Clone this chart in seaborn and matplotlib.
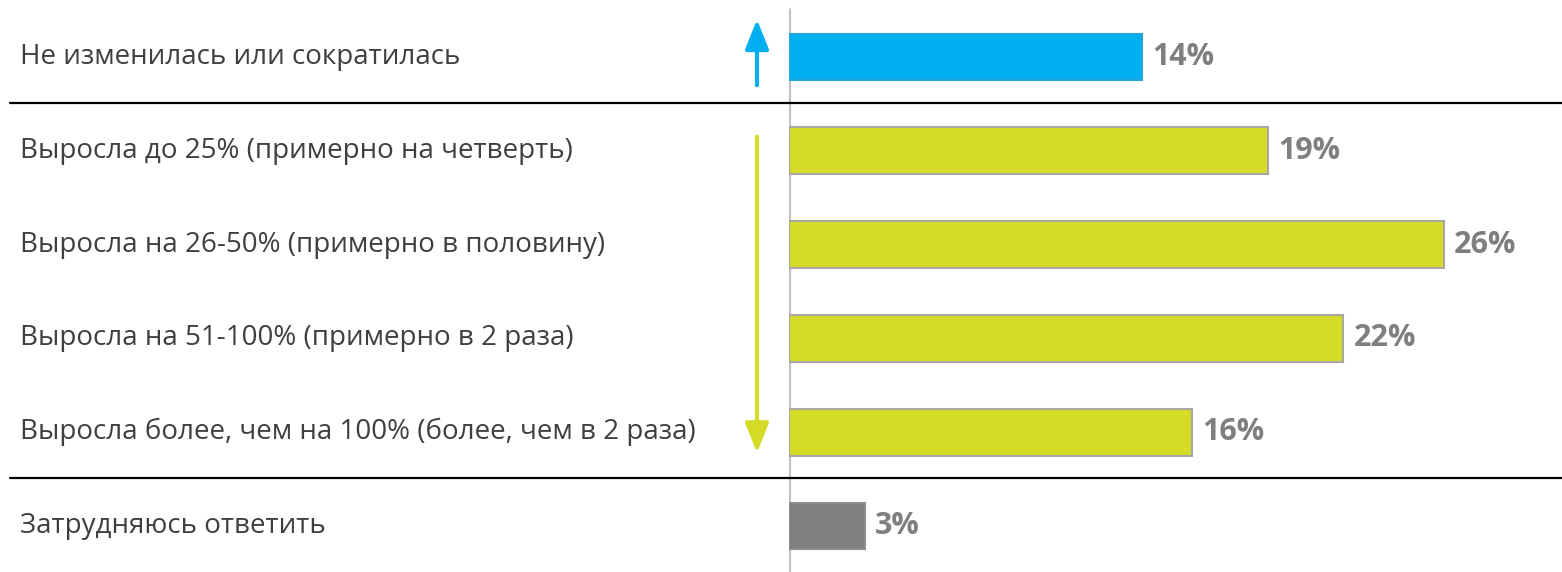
import matplotlib
matplotlib.use("Agg")
import matplotlib.pyplot as plt
import matplotlib.transforms as mtransforms
import seaborn as sns
import pandas as pd

categories = [
    "Не изменилась или сократилась",
    "Выросла до 25% (примерно на четверть)",
    "Выросла на 26-50% (примерно в половину)",
    "Выросла на 51-100% (примерно в 2 раза)",
    "Выросла более, чем на 100% (более, чем в 2 раза)",
    "Затрудняюсь ответить",
]
values = [14, 19, 26, 22, 16, 3]
groups = ["down", "up", "up", "up", "up", "unknown"]
value_labels = ["14%", "19%", "26%", "22%", "16%", "3%"]

palette = {"down": "#00B0F0", "up": "#D4DC28", "unknown": "#7F7F7F"}
edges = {"down": "#22A6D8", "up": "#A8A8A0", "unknown": "#8C8C8C"}

df = pd.DataFrame({"category": categories, "value": values, "group": groups})

sns.set_theme(style="white")
plt.rcParams["font.family"] = ["Open Sans", "DejaVu Sans"]

W, H = 1562, 572
fig = plt.figure(figsize=(W / 100, H / 100), dpi=100)
ax = fig.add_axes([789 / W, 0, 1 - 789 / W, 1])

sns.barplot(data=df, y="category", x="value", hue="group", palette=palette,
            hue_order=["down", "up", "unknown"], order=categories,
            dodge=False, width=0.5, saturation=1, legend=False, ax=ax,
            orient="h")

for bar_container, g in zip(ax.containers, ["down", "up", "unknown"]):
    for p in bar_container:
        p.set_edgecolor(edges[g])
        p.set_linewidth(1.5)

ax.set_xlim(0, 773 / 25.2)
ax.set_ylim(5 + 46 / 93.8, -57 / 93.8)
ax.axis("off")

# vertical baseline
ax.axvline(0, ymin=0, ymax=1 - 10 / H, color="#C0C0C0", lw=3, zorder=0)

# value labels
for i, (v, lab) in enumerate(zip(values, value_labels)):
    ax.text(v + 0.4, i, lab, va="center", ha="left", fontsize=22,
            fontweight="bold", color="#7F7F7F")

# category labels and separators, positioned in figure x / data y
trans = mtransforms.blended_transform_factory(fig.transFigure, ax.transData)
for i, c in enumerate(categories):
    ax.text(20 / W, i, c, transform=trans, va="center", ha="left",
            fontsize=20, color="#3F3F3F", clip_on=False)

for yy in (0.49, 4.49):
    ax.plot([10 / W, 1.0], [yy, yy], transform=trans, color="black",
            lw=1.6, clip_on=False)

# direction arrows
arrow_style = "-|>,head_length=0.9,head_width=0.36"
ax.annotate("", xy=(757 / W, -0.40), xytext=(757 / W, 0.30),
            xycoords=trans, textcoords=trans,
            arrowprops=dict(arrowstyle=arrow_style, mutation_scale=20,
                            color="#00B0F0", lw=3, shrinkA=0, shrinkB=0))
ax.annotate("", xy=(757 / W, 4.22), xytext=(757 / W, 0.85),
            xycoords=trans, textcoords=trans,
            arrowprops=dict(arrowstyle=arrow_style, mutation_scale=20,
                            color="#D4DC28", lw=3, shrinkA=0, shrinkB=0))

fig.savefig("out.png", dpi=100, facecolor="white")
